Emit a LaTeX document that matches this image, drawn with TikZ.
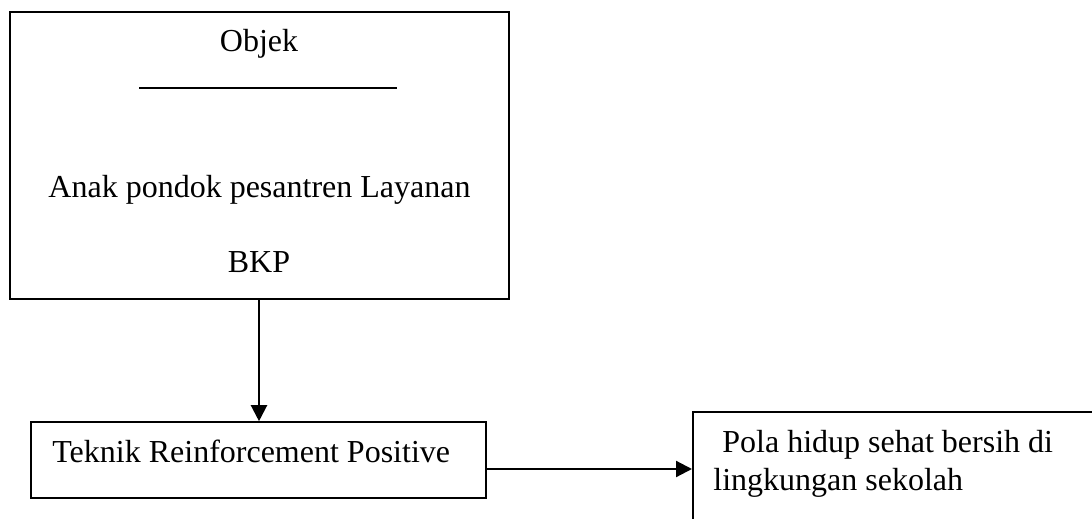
\documentclass[tikz,border=0pt]{standalone}
\usepackage{fontspec}
\setmainfont{Liberation Serif}
\usetikzlibrary{arrows.meta}
\begin{document}
\begin{tikzpicture}[x=0.5pt,y=-0.5pt,
  boxline/.style={draw=black,line width=0.8pt},
  txt/.style={inner sep=0pt,anchor=base,font=\fontsize{16}{19}\selectfont},
  conn/.style={line width=1.1pt,-{Triangle[length=8pt,width=8pt]}}]
\useasboundingbox (0,0) rectangle (1092,519);
\clip (0,0) rectangle (1092,519);
% box 1
\node[boxline,minimum width=249.5pt,minimum height=143.5pt,inner sep=0pt] (b1) at (259.5,155.5) {};
\node[txt] (t1) at (259,52) {Objek};
\coordinate (l1a) at (139,88);
\coordinate (l1b) at (397,88);
\draw[line width=0.8pt] (l1a) -- (l1b);
\node[txt] (t2) at (259.5,197) {Anak pondok pesantren Layanan};
\node[txt] (t3) at (259,272) {BKP};
% box 2
\node[boxline,minimum width=227.5pt,minimum height=38pt,inner sep=0pt] (b2) at (258.5,460) {};
\node[txt,anchor=base west] (t4) at (52,462) {Teknik Reinforcement Positive};
% box 3 (runs off the page)
\node[boxline,minimum width=210pt,minimum height=70pt,inner sep=0pt,anchor=north west] (b3) at (692,411) {};
\node[txt,anchor=base west] (t5) at (722,452) {Pola hidup sehat bersih di};
\node[txt,anchor=base west] (t6) at (713,490) {lingkungan sekolah};
% connectors
\draw[conn] (b1.south -| t3) -- (b2.north -| t3);
\draw[conn] (b2.east |- 0,469) -- (b3.west |- 0,469);
\end{tikzpicture}
\end{document}
